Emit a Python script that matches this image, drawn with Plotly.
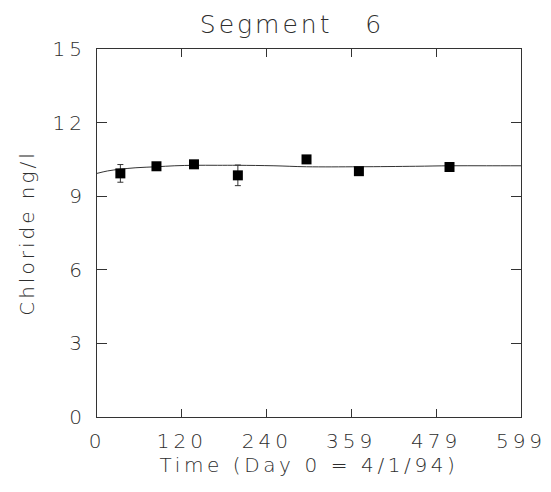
import plotly.graph_objects as go

# Observed data
days = [33, 84, 137, 199, 296, 370, 498]
chloride = [9.93, 10.22, 10.30, 9.85, 10.50, 10.02, 10.19]
errors = [0.36, 0.0, 0.0, 0.42, 0.0, 0.0, 0.0]

# Fitted / model curve
curve_days = [0, 15, 33, 55, 84, 110, 137, 170, 199, 250, 296, 370, 450, 498, 550, 599]
curve_vals = [9.93, 10.03, 10.10, 10.16, 10.20, 10.24, 10.26, 10.26, 10.26, 10.24, 10.20, 10.20, 10.22, 10.24, 10.24, 10.24]

xtick_vals = [0, 120, 240, 359, 479, 599]
xtick_text = ["0", "120", "240", "359", "479", "599"]
ytick_vals = [0, 3, 6, 9, 12, 15]
ytick_text = ["0", "3", "6", "9", "12", "15"]

title_text = "Segment   6"
xtitle_text = "Time (Day 0 = 4/1/94)"
ytitle_text = "Chloride ng/l"

font_family = "DejaVu Sans"
text_color = "#2e2e2e"


def spaced(s, px):
    return f'<span style="letter-spacing:{px}px">{s}</span>'


fig = go.Figure()
fig.add_trace(go.Scatter(
    x=curve_days, y=curve_vals, mode="lines",
    line=dict(color="#333333", width=1, shape="spline", smoothing=1.0),
    showlegend=False, hoverinfo="skip"))
fig.add_trace(go.Scatter(
    x=days, y=chloride, mode="markers",
    marker=dict(symbol="square", size=10, color="black"),
    error_y=dict(type="data", array=errors, visible=True, color="#333333", thickness=1, width=3),
    showlegend=False))

axis_common = dict(
    showgrid=False, zeroline=False, showline=True, linecolor="#333333", linewidth=1,
    mirror="ticks", ticks="inside", tickcolor="#333333", tickwidth=1, automargin=False,
    tickfont=dict(family=font_family, size=20, color=text_color, weight=200),
)

fig.update_layout(
    width=551, height=492,
    margin=dict(l=97, r=30, t=49, b=75),
    paper_bgcolor="white", plot_bgcolor="white",
    title=dict(text=spaced(title_text, 3), x=0.53, xref="container", y=0.95, yref="container",
               xanchor="center", yanchor="middle",
               font=dict(family=font_family, size=25, color=text_color, weight=200)),
    xaxis=dict(range=[0, 599], tickvals=xtick_vals,
               ticktext=[spaced(t, 4) for t in xtick_text], ticklen=8,
               ticklabelstandoff=6,
               title=dict(text=spaced(xtitle_text, 3.6), standoff=5,
                          font=dict(family=font_family, size=20, color=text_color, weight=200)),
               **axis_common),
    yaxis=dict(range=[0, 15], tickvals=ytick_vals,
               ticktext=[spaced(t, 4) for t in ytick_text], ticklen=10,
               ticklabelstandoff=6,
               title=dict(text=spaced(ytitle_text, 3), standoff=12,
                          font=dict(family=font_family, size=20, color=text_color, weight=200)),
               **axis_common),
)

fig.write_html("out.html", config={"displayModeBar": False},
               post_script="document.body.style.margin='0px';")
